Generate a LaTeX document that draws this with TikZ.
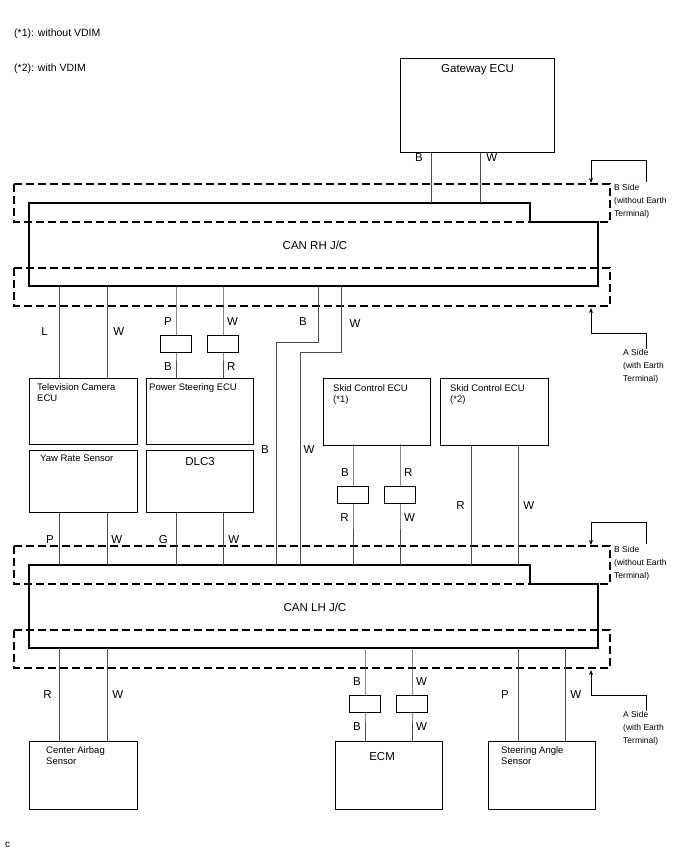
\documentclass[tikz,border=0pt]{standalone}
\usepackage{fontspec}
\setmainfont{Liberation Sans}
\usetikzlibrary{positioning,calc,arrows.meta}
\tikzset{
	ecu/.style={draw,line width=1.2pt,anchor=north west,inner sep=0pt},
	conn/.style={draw,line width=1.1pt,fill=white,minimum width=31pt,minimum height=17pt,inner sep=0pt},
	wire/.style={line width=0.6pt,black!70},
	side/.style={dashed,line width=2.6pt,dash pattern=on 8pt off 4pt},
	lbl/.style={font=\fontsize{11.5}{12}\selectfont,inner sep=0pt},
	boxtxt/.style={font=\fontsize{9.5}{11.5}\selectfont,align=left,anchor=north west,inner sep=0pt},
	note/.style={font=\fontsize{8.5}{13}\selectfont,align=left,anchor=north west,inner sep=0pt},
	bracket/.style={line width=0.8pt,-{Stealth[length=5pt,width=4pt]}}
}
\begin{document}
\begin{tikzpicture}[x=1pt,y=-1pt]
	\useasboundingbox (0,0) rectangle (691,855);
	% header notes
	\node[lbl,anchor=west,font=\fontsize{10.5}{12}\selectfont] (n1) at (14,34) {(*1): without VDIM};
	\node[lbl,anchor=west,font=\fontsize{10.5}{12}\selectfont] (n2) at (14,69) {(*2): with VDIM};
	\node[lbl,anchor=west,font=\fontsize{10}{12}\selectfont] (cc) at (5,845) {c};
	% ECU boxes
	\node[ecu,minimum width=154pt,minimum height=94pt] (gw) at (400,58) {};
	\node[lbl] at ($(gw.north)+(0,12)$) {Gateway ECU};
	\node[ecu,minimum width=108pt,minimum height=66pt] (tv) at (29,378) {};
	\node[ecu,minimum width=107pt,minimum height=66pt] (ps) at (146,378) {};
	\node[ecu,minimum width=107pt,minimum height=67pt] (sk1) at (323,378) {};
	\node[ecu,minimum width=108pt,minimum height=67pt] (sk2) at (440,378) {};
	\node[ecu,minimum width=108pt,minimum height=62pt] (yaw) at (29,450) {};
	\node[ecu,minimum width=107pt,minimum height=62pt] (dlc) at (146,450) {};
	\node[ecu,minimum width=108pt,minimum height=68pt] (air) at (29,741) {};
	\node[ecu,minimum width=107pt,minimum height=68pt] (ecm) at (335,741) {};
	\node[ecu,minimum width=107pt,minimum height=68pt] (sas) at (488,741) {};
	\node[boxtxt] at ($(tv.north west)+(8,5)$) {Television Camera\\ECU};
	\node[boxtxt] at ($(ps.north west)+(3,5)$) {Power Steering ECU};
	\node[boxtxt] at ($(sk1.north west)+(10,6)$) {Skid Control ECU\\(*1)};
	\node[boxtxt] at ($(sk2.north west)+(10,6)$) {Skid Control ECU\\(*2)};
	\node[boxtxt] at ($(yaw.north west)+(11,5)$) {Yaw Rate Sensor};
	\node[boxtxt] at ($(air.north west)+(17,5)$) {Center Airbag\\Sensor};
	\node[boxtxt] at ($(sas.north west)+(13,5)$) {Steering Angle\\Sensor};
	\node[lbl] at ($(dlc.north)+(0,12)$) {DLC3};
	\node[lbl] at ($(ecm.north)+(-7,16)$) {ECM};
	% junction connectors
	\foreach \j/\t/\lab in {r/203/{CAN RH J/C}, l/565/{CAN LH J/C}}{
		\coordinate (jc\j) at (29,\t);
		\draw[line width=1.2pt] (jc\j) -- ++(501,0) -- ++(0,19) -- ++(68,0) -- ++(0,64) -- ++(-569,0) -- cycle;
		\node[lbl] (t\j) at ($(jc\j)+(286,42)$) {\lab};
		\draw[side] ($(jc\j)+(-15,-19)$) rectangle ++(596,38);
		\draw[side] ($(jc\j)+(-15,65)$) rectangle ++(596,38);
		\node[note] (bs\j) at ($(jc\j)+(585,-19)$) {B Side\\(without Earth\\Terminal)};
		\node[note] (as\j) at ($(jc\j)+(594,146)$) {A Side\\(with Earth\\Terminal)};
		\draw[bracket] ($(jc\j)+(617,-21)$) |- ++(-55,-22) -- ++(0,23);
		\draw[bracket] ($(jc\j)+(617,146)$) |- ++(-55,-16) -- ++(0,-25);
	}
	% wires
	\draw[wire] (431,0 |- gw.south) -- (431,203) node[lbl,black,pos=0.08,left=8pt] {B};
	\draw[wire] (480,0 |- gw.south) -- (480,203) node[lbl,black,pos=0.08,right=6pt] {W};
	\draw[wire] (59,286) -- (59,0 |- tv.north) node[lbl,black,midway,left=11pt] {L};
	\draw[wire] (107,286) -- (107,0 |- tv.north) node[lbl,black,midway,right=6pt] {W};
	\draw[wire] (59,0 |- yaw.south) -- (59,565) node[lbl,black,midway,left=5pt] {P};
	\draw[wire] (107,0 |- yaw.south) -- (107,565) node[lbl,black,midway,right=4pt] {W};
	\draw[wire] (176,0 |- dlc.south) -- (176,565) node[lbl,black,midway,left=8pt] {G};
	\draw[wire] (223,0 |- dlc.south) -- (223,565) node[lbl,black,midway,right=5pt] {W};
	\draw[wire] (59,648) -- (59,0 |- air.north) node[lbl,black,midway,left=7pt] {R};
	\draw[wire] (107,648) -- (107,0 |- air.north) node[lbl,black,midway,right=5pt] {W};
	\draw[wire] (318,286) -- (318,342) -- (276,342) -- (276,565);
	\draw[wire] (341,286) -- (341,352) -- (300,352) -- (300,565);
	\node[lbl] at (303,322) {B};
	\node[lbl] at (355,324) {W};
	\node[lbl] at (265,450) {B};
	\node[lbl] at (309,450) {W};
	\draw[wire] (471,0 |- sk2.south) -- (471,565) node[lbl,black,pos=0.5,left=6pt] {R};
	\draw[wire] (518,0 |- sk2.south) -- (518,565) node[lbl,black,pos=0.5,right=5pt] {W};
	\draw[wire] (518,648) -- (518,0 |- sas.north) node[lbl,black,midway,left=9pt] {P};
	\draw[wire] (565,648) -- (565,0 |- sas.north) node[lbl,black,midway,right=5pt] {W};
	% wires with in-line connectors
	\foreach \x/\ya/\yb/\yc/\la/\lb/\s in {176/286/344/378/P/B/left, 223/286/344/378/W/R/right,
		353/444/495/565/B/R/left, 400/444/495/565/R/W/right,
		365/648/704/741/B/B/left, 412/648/704/741/W/W/right}{
		\draw[wire] (\x,\ya) -- (\x,\yb) coordinate (w\x) -- (\x,\yc);
		\node[conn] (c\x) at (w\x) {};
		\node[lbl,\s=4pt] at ($(c\x.north)+(0,-13)$) {\la};
		\node[lbl,\s=4pt] at ($(c\x.south)+(0,13)$) {\lb};
	}
\end{tikzpicture}
\end{document}
